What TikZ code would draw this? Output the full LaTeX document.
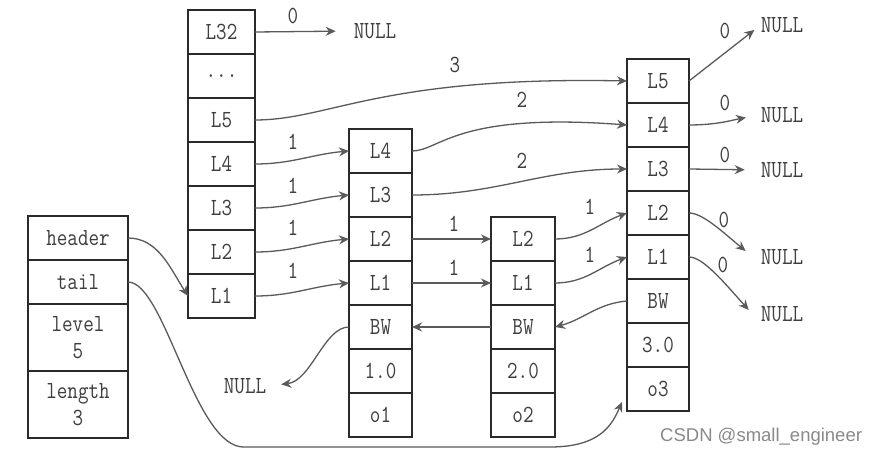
\documentclass[tikz,border=0pt]{standalone}
\usepackage{fontspec}
\setsansfont{Liberation Sans}
\usetikzlibrary{arrows.meta,calc}
\definecolor{boxc}{HTML}{2A2A2A}
\definecolor{linec}{HTML}{5A5A5A}
\definecolor{txtc}{HTML}{3E3E3E}
\definecolor{wmc}{HTML}{8A8A8A}
\newcommand\tx[1]{\scalebox{1}[1.2]{#1}}
\begin{document}
\begin{tikzpicture}[x=1pt,y=-1pt,
  cell/.style={draw=boxc, line width=2.8pt, inner sep=0pt, outer sep=0pt, text=txtc,
    font=\fontsize{20.5}{27}\selectfont\ttfamily, align=center},
  ca/.style={cell, minimum width=67pt, minimum height=44pt},
  cb/.style={cell, minimum width=63pt, minimum height=44pt},
  cc/.style={cell, minimum width=64pt, minimum height=44pt},
  cd/.style={cell, minimum width=62pt, minimum height=44pt},
  ch/.style={cell, minimum width=100pt},
  lbl/.style={text=txtc, font=\fontsize{20.5}{26}\selectfont\ttfamily, inner sep=0pt},
  arr/.style={draw=linec, line width=1.3pt, -{Stealth[length=10pt,width=9pt]}}
]
\fill[white] (0,0) rectangle (880,457);
\useasboundingbox (0,0) rectangle (880,457);

% header struct
\node[ch, minimum height=44pt] (hh) at (78,238) {\tx{header}};
\node[ch, minimum height=44pt] (ht) at (78,282) {\tx{tail}};
\node[ch, minimum height=67pt] (hl) at (78,337.5) {\tx{level}\\\tx{5}};
\node[ch, minimum height=67pt] (hn) at (78,404.5) {\tx{length}\\\tx{3}};

% column 1 (header node)
\node[ca] (a32) at (221.5,32) {\tx{L32}};
\node[ca] (adots) at (221.5,76) {\tx{...}};
\node[ca] (a5) at (221.5,120) {\tx{L5}};
\node[ca] (a4) at (221.5,164) {\tx{L4}};
\node[ca] (a3) at (221.5,208) {\tx{L3}};
\node[ca] (a2) at (221.5,252) {\tx{L2}};
\node[ca] (a1) at (221.5,296) {\tx{L1}};

% column 2 (o1)
\node[cb] (b4) at (380.5,151) {\tx{L4}};
\node[cb] (b3) at (380.5,195) {\tx{L3}};
\node[cb] (b2) at (380.5,239) {\tx{L2}};
\node[cb] (b1) at (380.5,283) {\tx{L1}};
\node[cb] (bbw) at (380.5,327) {\tx{BW}};
\node[cb] (bsc) at (380.5,371) {\tx{1.0}};
\node[cb] (bob) at (380.5,415) {\tx{o1}};

% column 3 (o2)
\node[cc] (c2) at (523,239) {\tx{L2}};
\node[cc] (c1) at (523,283) {\tx{L1}};
\node[cc] (cbw) at (523,327) {\tx{BW}};
\node[cc] (csc) at (523,371) {\tx{2.0}};
\node[cc] (cob) at (523,415) {\tx{o2}};

% column 4 (o3)
\node[cd] (d5) at (658,81) {\tx{L5}};
\node[cd] (d4) at (658,125) {\tx{L4}};
\node[cd] (d3) at (658,169) {\tx{L3}};
\node[cd] (d2) at (658,213) {\tx{L2}};
\node[cd] (d1) at (658,257) {\tx{L1}};
\node[cd] (dbw) at (658,301) {\tx{BW}};
\node[cd] (dsc) at (658,345) {\tx{3.0}};
\node[cd] (dob) at (658,389) {\tx{o3}};

% NULL nodes
\node[lbl] (n32) at (375,31) {\tx{NULL}};
\node[lbl] (nr5) at (782,25) {\tx{NULL}};
\node[lbl] (nr4) at (782,115) {\tx{NULL}};
\node[lbl] (nr3) at (782,170) {\tx{NULL}};
\node[lbl] (nr2) at (782,257) {\tx{NULL}};
\node[lbl] (nr1) at (782,314) {\tx{NULL}};
\node[lbl] (nb) at (245,386) {\tx{NULL}};

\coordinate (tailend) at (622,402);

% span labels
\node[lbl] (s32) at (293,16) {\tx{0}};
\node[lbl] (s5) at (455,65) {\tx{3}};
\node[lbl] (s4) at (293,142) {\tx{1}};
\node[lbl] (s3) at (293,186) {\tx{1}};
\node[lbl] (s2) at (293,228) {\tx{1}};
\node[lbl] (s1) at (293,271) {\tx{1}};
\node[lbl] (sb4) at (522,100) {\tx{2}};
\node[lbl] (sb3) at (522,161) {\tx{2}};
\node[lbl] (sb2) at (454,224) {\tx{1}};
\node[lbl] (sb1) at (454,268) {\tx{1}};
\node[lbl] (sc2) at (590,207) {\tx{1}};
\node[lbl] (sc1) at (590,255) {\tx{1}};
\node[lbl] (sd5) at (725,31) {\tx{0}};
\node[lbl] (sd4) at (725,103) {\tx{0}};
\node[lbl] (sd3) at (725,155) {\tx{0}};
\node[lbl] (sd2) at (724,220) {\tx{0}};
\node[lbl] (sd1) at (723,265) {\tx{0}};

% connectors
\draw[arr, shorten >=18pt] (a32.east) -- (n32.west);
\draw[arr] (a5.east) .. controls +(75,0) and +(-247,-5) .. (d5.west);
\draw[arr] (a4.east) to[out=0,in=185] (b4.west);
\draw[arr] (a3.east) to[out=0,in=185] (b3.west);
\draw[arr] (a2.east) to[out=0,in=185] (b2.west);
\draw[arr] (a1.east) to[out=0,in=185] (b1.west);
\draw[arr] (b4.east) .. controls +(28,0) and +(-172,-13) .. (d4.west);
\draw[arr] (b3.east) to[out=0,in=180] (d3.west);
\draw[arr] (b2.east) -- (c2.west);
\draw[arr] (b1.east) -- (c1.west);
\draw[arr] (c2.east) to[out=0,in=200] (d2.west);
\draw[arr] (c1.east) to[out=0,in=200] (d1.west);
\draw[arr, shorten >=8pt] (d5.east) -- (nr5.west);
\draw[arr, shorten >=15pt] (d4.east) to[out=0,in=190] (nr4.west);
\draw[arr, shorten >=16pt] (d3.east) -- (nr3.west);
\draw[arr] (d2.east) .. controls +(14,0) and +(-22,-18) .. ($(nr2.west)+(-15,-6)$);
\draw[arr] (d1.east) .. controls +(14,0) and +(-25,-28) .. ($(nr1.west)+(-12,-4)$);
\draw[arr] (dbw.west) to[out=185,in=15] (cbw.east);
\draw[arr] (cbw.west) -- (bbw.east);
\draw[arr, shorten >=15pt] (bbw.west) .. controls +(-25,0) and +(45,-5) .. (nb.east);
\draw[arr] (hh.east) .. controls +(30,0) and +(-18,-28) .. (a1.west);
\draw[arr] (ht.east) .. controls +(37,0) and (195,450) .. (245,447) -- (550,447)
  .. controls (600,447) and (612,425) .. (tailend);

% watermark
\node[anchor=west, inner sep=0pt, text=wmc, font=\sffamily\fontsize{18.5}{20}\selectfont] (wm) at (660,437) {CSDN @small\_engineer};
\end{tikzpicture}
\end{document}
